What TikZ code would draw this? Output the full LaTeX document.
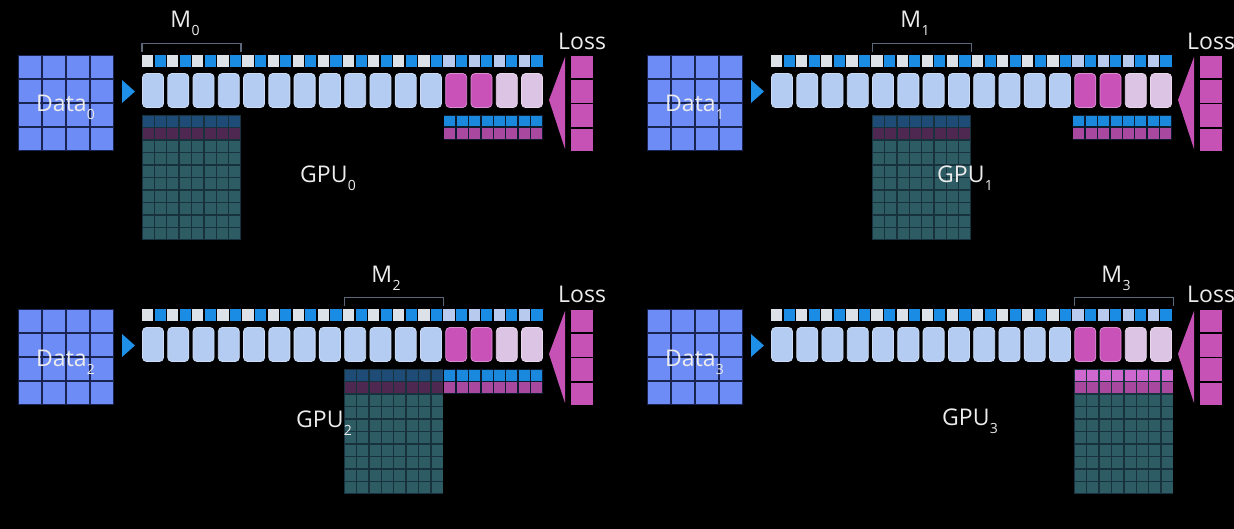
\documentclass[tikz,border=0pt]{standalone}
\usepackage{fontspec}
\setmainfont{Open Sans}
\definecolor{datacell}{HTML}{6E8CF6}
\definecolor{datagap}{HTML}{1A2450}
\definecolor{arrowblue}{HTML}{1E90E8}
\definecolor{stripwhite}{HTML}{DDE2E8}
\definecolor{striplav}{HTML}{B8CAEE}
\definecolor{stripblue}{HTML}{1A8CE4}
\definecolor{boxblue}{HTML}{B4CCF2}
\definecolor{boxblueedge}{HTML}{CCDCF6}
\definecolor{boxmag}{HTML}{C852B8}
\definecolor{boxmagedge}{HTML}{DC8CD2}
\definecolor{boxpale}{HTML}{DCC4E4}
\definecolor{boxpaleedge}{HTML}{EAD8EE}
\definecolor{bracketc}{HTML}{5C677A}
\definecolor{tealc}{HTML}{2E5C64}
\definecolor{tealline}{HTML}{17323C}
\definecolor{darkblue}{HTML}{1E4C76}
\definecolor{darkmag}{HTML}{4E2850}
\definecolor{brightmag}{HTML}{CE68CE}
\definecolor{midmag}{HTML}{A8489E}
\definecolor{rowblue}{HTML}{1A88DC}
\definecolor{rowgap}{HTML}{0C1C30}
\definecolor{lossmag}{HTML}{C652B6}
\definecolor{txt}{HTML}{ECECEC}
\newcommand\sub[1]{\hspace{0.3pt}\raisebox{-8pt}{\fontsize{14}{14}\selectfont #1}}
\newcommand\drawpanel[6]{%
 \begin{scope}[shift={(#1,#2)}]
  % data grid
  \fill[datagap] (18,55) rectangle (114,151);
  \foreach \r in {0,...,3}{\foreach \c in {0,...,3}{
    \fill[datacell] ({18+24*\c+1},{55+24*\r+1}) rectangle ++(22,22);}}
  % input arrow
  \fill[arrowblue] (122,80) -- (135,91.5) -- (122,103) -- cycle;
  % parameter strip
  \foreach \i in {0,...,31}{
    \pgfmathtruncatemacro\odd{mod(\i,2)}
    \ifnum\odd=1 \def\sc{stripblue}\else\ifnum\i<24 \def\sc{stripwhite}\else\def\sc{striplav}\fi\fi
    \fill[\sc] ({142+12.56*\i},55) rectangle ++(11.2,12);
  }
  % layer boxes
  \foreach \i in {0,...,15}{
    \ifnum\i<12 \def\bc{boxblue}\def\be{boxblueedge}\else\ifnum\i<14 \def\bc{boxmag}\def\be{boxmagedge}\else\def\bc{boxpale}\def\be{boxpaleedge}\fi\fi
    \draw[fill=\bc,draw=\be,line width=0.8,rounded corners=4] ({142+25.27*\i+0.5},73.5) rectangle ++(21,34);
  }
  % bracket
  \pgfmathsetmacro\xa{142+101.1*#3}
  \pgfmathsetmacro\xb{\xa+99}
  \draw[bracketc,line width=1.2] (\xa,52) -- (\xa,43.5) -- (\xb,43.5) -- (\xb,52);
  % memory block
  \fill[tealline] (\xa,115) rectangle (\xb,240);
  \foreach \r in {0,...,9}{
    \ifnum\r=0 \def\tc{#4}\else\ifnum\r=1 \def\tc{#5}\else\def\tc{tealc}\fi\fi
    \foreach \c in {0,...,7}{
      \fill[\tc] ({\xa+12.375*\c+0.7},{115+12.5*\r+0.7}) rectangle ++(11,11.1);}}
  % gradient rows on the right
  \ifnum#6=1
    \fill[rowgap] (443.5,115) rectangle (543,140);
    \foreach \c in {0,...,7}{
      \fill[rowblue] ({443.5+12.44*\c+0.7},115.7) rectangle ++(11,10.8);
      \fill[midmag] ({443.5+12.44*\c+0.7},128.2) rectangle ++(11,10.8);}
  \fi
  % loss
  \fill[lossmag] (565,57) -- (549,100) -- (565,149) -- cycle;
  \foreach \r in {0,...,3}{
    \fill[lossmag] (571,{55+24.25*\r+0.8}) rectangle ++(22,22.6);}
 \end{scope}}
\begin{document}
\begin{tikzpicture}[x=1pt,y=-1pt,
  lbl/.style={text=txt,font=\fontsize{23}{23}\selectfont,inner sep=0pt}]
\fill[black] (0,0) rectangle (1234,529);
\useasboundingbox (0,0) rectangle (1234,529);
\clip (0,0) rectangle (1234,529);
\drawpanel{0}{0}{0}{darkblue}{darkmag}{1}
\drawpanel{629}{0}{1}{darkblue}{darkmag}{1}
\drawpanel{0}{254}{2}{darkblue}{darkmag}{1}
\drawpanel{629}{254}{3}{brightmag}{midmag}{0}
% labels
\node[lbl,anchor=base west] (d0) at (36,112) {Data\sub{0}};
\node[lbl,anchor=base west] (d1) at (665,112) {Data\sub{1}};
\node[lbl,anchor=base west] (d2) at (36,366) {Data\sub{2}};
\node[lbl,anchor=base west] (d3) at (665,366) {Data\sub{3}};
\node[lbl,anchor=base] (m0) at (185,28) {M\sub{0}};
\node[lbl,anchor=base] (m1) at (915,28) {M\sub{1}};
\node[lbl,anchor=base] (m2) at (386,283) {M\sub{2}};
\node[lbl,anchor=base] (m3) at (1116,283) {M\sub{3}};
\node[lbl,anchor=base west] (l0) at (558,50) {Loss};
\node[lbl,anchor=base west] (l1) at (1187,50) {Loss};
\node[lbl,anchor=base west] (l2) at (558,303) {Loss};
\node[lbl,anchor=base west] (l3) at (1187,303) {Loss};
\node[lbl,anchor=base west] (g0) at (300,183) {GPU\sub{0}};
\node[lbl,anchor=base west] (g1) at (937,183) {GPU\sub{1}};
\node[lbl,anchor=base west] (g2) at (296,427) {GPU\sub{2}};
\node[lbl,anchor=base west] (g3) at (942,425) {GPU\sub{3}};
\end{tikzpicture}
\end{document}
